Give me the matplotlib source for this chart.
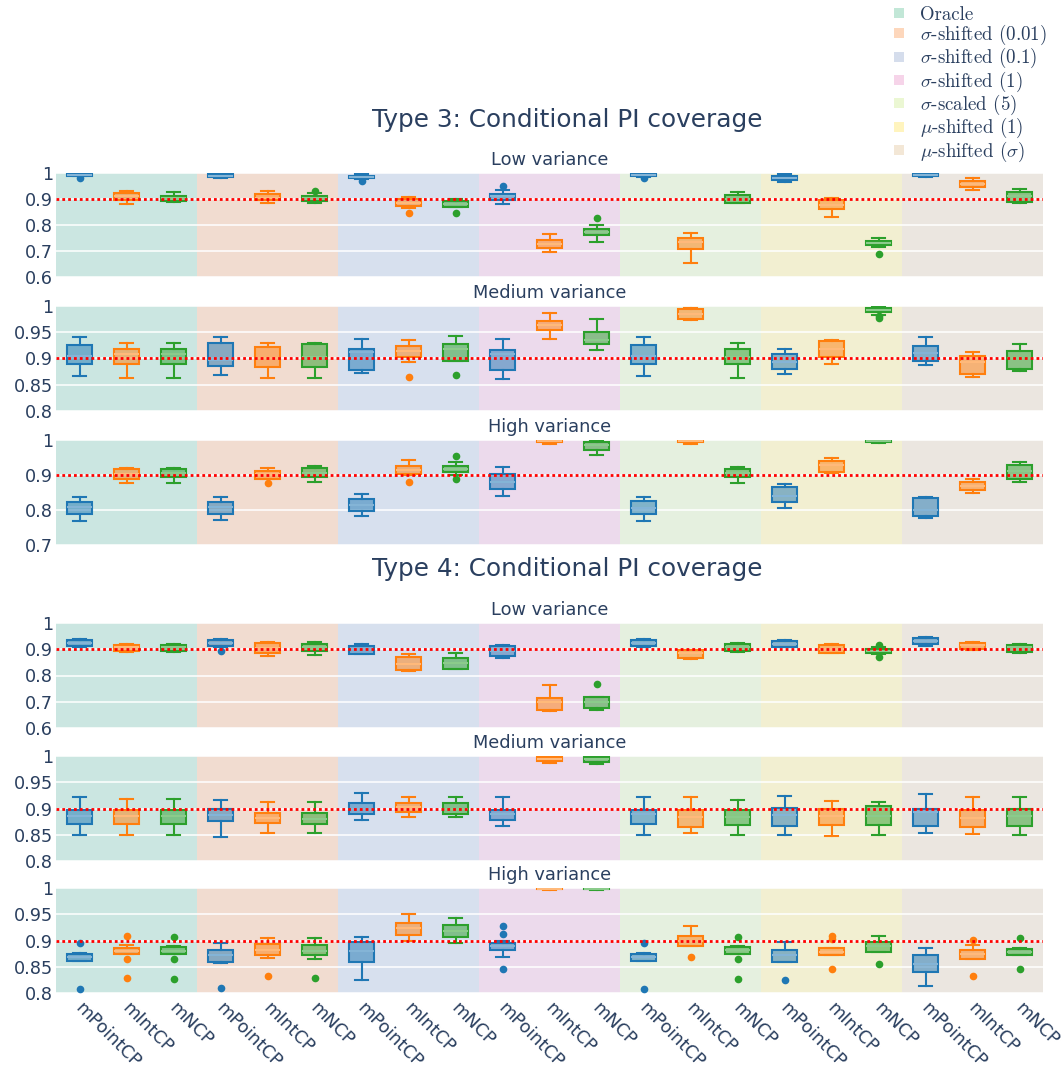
import matplotlib
matplotlib.use("Agg")
import matplotlib.pyplot as plt
import matplotlib.transforms as mtransforms
from matplotlib.lines import Line2D
from matplotlib.colors import to_rgb

plt.rcParams['font.family'] = ['DejaVu Sans']
plt.rcParams['mathtext.fontset'] = 'cm'

TEXT = '#2a3f5f'

scenarios = ['Oracle', r'$\sigma$-shifted (0.01)', r'$\sigma$-shifted (0.1)',
             r'$\sigma$-shifted (1)', r'$\sigma$-scaled (5)',
             r'$\mu$-shifted (1)', r'$\mu$-shifted ($\sigma$)']
scenario_colors = ['#B3E2CD', '#FDCDAC', '#CBD5E8', '#F4CAE4',
                   '#E6F5C9', '#FFF2AE', '#F1E2CC']
methods = ['mPointCP', 'mIntCP', 'mNCP']
method_colors = ['#1f77b4', '#ff7f0e', '#2ca02c']

# (whislo, q1, median, q3, whishi) per box, scenario-major / method-minor
t3_low = [
    (0.988, 0.990, 0.993, 0.996, 0.998), (0.882, 0.897, 0.912, 0.922, 0.930), (0.887, 0.893, 0.903, 0.912, 0.926),
    (0.980, 0.984, 0.990, 0.997, 1.000), (0.883, 0.896, 0.905, 0.918, 0.932), (0.883, 0.894, 0.904, 0.913, 0.922),
    (0.975, 0.979, 0.985, 0.990, 0.995), (0.864, 0.874, 0.885, 0.899, 0.909), (0.868, 0.871, 0.880, 0.894, 0.899),
    (0.882, 0.898, 0.910, 0.920, 0.933), (0.695, 0.710, 0.727, 0.742, 0.765), (0.735, 0.760, 0.774, 0.786, 0.800),
    (0.984, 0.988, 0.993, 0.998, 1.000), (0.652, 0.706, 0.735, 0.750, 0.768), (0.883, 0.886, 0.900, 0.914, 0.927),
    (0.966, 0.972, 0.980, 0.990, 0.996), (0.832, 0.860, 0.878, 0.895, 0.905), (0.715, 0.722, 0.730, 0.738, 0.749),
    (0.984, 0.988, 0.994, 0.999, 1.000), (0.935, 0.945, 0.958, 0.970, 0.980), (0.883, 0.888, 0.910, 0.926, 0.940),
]
t3_low_out = {0: [0.980], 5: [0.932], 6: [0.970], 7: [0.845], 8: [0.845],
              9: [0.950], 11: [0.828], 12: [0.980], 17: [0.690]}

t3_med = [
    (0.866, 0.890, 0.905, 0.925, 0.940), (0.863, 0.890, 0.908, 0.919, 0.929), (0.863, 0.890, 0.908, 0.919, 0.929),
    (0.869, 0.885, 0.897, 0.930, 0.941), (0.863, 0.883, 0.900, 0.922, 0.929), (0.863, 0.883, 0.902, 0.927, 0.929),
    (0.873, 0.878, 0.913, 0.918, 0.937), (0.894, 0.902, 0.915, 0.924, 0.936), (0.895, 0.896, 0.918, 0.927, 0.943),
    (0.860, 0.878, 0.908, 0.916, 0.938), (0.938, 0.954, 0.963, 0.972, 0.987), (0.916, 0.927, 0.936, 0.950, 0.975),
    (0.866, 0.890, 0.905, 0.925, 0.940), (0.973, 0.976, 0.985, 0.994, 0.997), (0.863, 0.890, 0.902, 0.919, 0.929),
    (0.871, 0.880, 0.893, 0.908, 0.919), (0.890, 0.902, 0.918, 0.933, 0.935), (0.982, 0.988, 0.992, 0.996, 0.999),
    (0.887, 0.895, 0.910, 0.924, 0.940), (0.865, 0.871, 0.893, 0.904, 0.912), (0.876, 0.880, 0.900, 0.915, 0.927),
]
t3_med_out = {7: [0.865], 8: [0.868], 17: [0.978, 0.981]}

t3_high = [
    (0.769, 0.789, 0.808, 0.824, 0.838), (0.878, 0.888, 0.902, 0.916, 0.921), (0.878, 0.893, 0.907, 0.916, 0.921),
    (0.771, 0.790, 0.808, 0.824, 0.837), (0.890, 0.890, 0.903, 0.912, 0.921), (0.880, 0.895, 0.905, 0.919, 0.926),
    (0.783, 0.797, 0.815, 0.831, 0.847), (0.900, 0.902, 0.915, 0.927, 0.943), (0.900, 0.908, 0.918, 0.927, 0.936),
    (0.840, 0.861, 0.880, 0.902, 0.924), (0.990, 0.993, 0.996, 0.999, 1.000), (0.957, 0.971, 0.985, 0.994, 0.996),
    (0.769, 0.789, 0.806, 0.826, 0.838), (0.990, 0.994, 0.997, 0.999, 1.000), (0.878, 0.893, 0.905, 0.916, 0.922),
    (0.805, 0.824, 0.840, 0.867, 0.874), (0.907, 0.910, 0.928, 0.941, 0.950), (0.992, 0.995, 0.998, 0.999, 1.000),
    (0.778, 0.783, 0.800, 0.833, 0.838), (0.848, 0.857, 0.870, 0.880, 0.890), (0.880, 0.890, 0.912, 0.928, 0.937),
]
t3_high_out = {4: [0.878], 7: [0.880], 8: [0.954, 0.888]}

t4_low = [
    (0.909, 0.912, 0.925, 0.936, 0.940), (0.890, 0.892, 0.908, 0.917, 0.921), (0.890, 0.892, 0.908, 0.917, 0.921),
    (0.909, 0.912, 0.925, 0.934, 0.938), (0.873, 0.886, 0.905, 0.924, 0.928), (0.877, 0.892, 0.910, 0.921, 0.928),
    (0.881, 0.883, 0.900, 0.912, 0.919), (0.818, 0.822, 0.845, 0.870, 0.883), (0.823, 0.826, 0.849, 0.868, 0.886),
    (0.868, 0.875, 0.893, 0.911, 0.915), (0.665, 0.667, 0.700, 0.715, 0.762), (0.667, 0.677, 0.700, 0.718, 0.718),
    (0.909, 0.911, 0.925, 0.934, 0.938), (0.864, 0.868, 0.885, 0.896, 0.899), (0.889, 0.893, 0.908, 0.919, 0.924),
    (0.907, 0.909, 0.920, 0.931, 0.934), (0.884, 0.886, 0.900, 0.916, 0.919), (0.883, 0.886, 0.895, 0.902, 0.909),
    (0.911, 0.921, 0.932, 0.942, 0.947), (0.898, 0.901, 0.915, 0.924, 0.928), (0.886, 0.888, 0.910, 0.917, 0.921),
]
t4_low_out = {3: [0.892], 11: [0.766], 17: [0.915, 0.872]}

t4_med = [
    (0.850, 0.870, 0.885, 0.898, 0.921), (0.850, 0.870, 0.885, 0.898, 0.918), (0.850, 0.870, 0.885, 0.898, 0.918),
    (0.846, 0.876, 0.888, 0.899, 0.916), (0.853, 0.873, 0.882, 0.892, 0.913), (0.853, 0.870, 0.880, 0.892, 0.913),
    (0.878, 0.890, 0.900, 0.910, 0.929), (0.883, 0.893, 0.902, 0.910, 0.922), (0.883, 0.890, 0.900, 0.910, 0.922),
    (0.866, 0.879, 0.890, 0.898, 0.922), (0.987, 0.990, 0.994, 0.998, 0.999), (0.984, 0.988, 0.994, 0.998, 0.999),
    (0.850, 0.870, 0.889, 0.898, 0.921), (0.853, 0.864, 0.884, 0.898, 0.921), (0.850, 0.869, 0.884, 0.897, 0.917),
    (0.850, 0.866, 0.888, 0.901, 0.924), (0.847, 0.868, 0.885, 0.900, 0.915), (0.850, 0.868, 0.885, 0.904, 0.913),
    (0.853, 0.866, 0.893, 0.900, 0.928), (0.852, 0.865, 0.882, 0.898, 0.921), (0.850, 0.866, 0.885, 0.900, 0.921),
]
t4_med_out = {}

t4_high = [
    (0.861, 0.861, 0.869, 0.875, 0.877), (0.874, 0.874, 0.880, 0.886, 0.892), (0.874, 0.874, 0.880, 0.887, 0.889),
    (0.858, 0.859, 0.872, 0.882, 0.896), (0.866, 0.873, 0.882, 0.893, 0.904), (0.864, 0.873, 0.880, 0.891, 0.904),
    (0.824, 0.859, 0.880, 0.898, 0.907), (0.899, 0.911, 0.923, 0.934, 0.951), (0.896, 0.907, 0.918, 0.929, 0.942),
    (0.869, 0.882, 0.889, 0.895, 0.899), (0.997, 0.998, 0.999, 1.000, 1.000), (0.997, 0.998, 0.999, 1.000, 1.000),
    (0.861, 0.861, 0.868, 0.875, 0.877), (0.890, 0.890, 0.900, 0.909, 0.928), (0.875, 0.875, 0.882, 0.887, 0.889),
    (0.859, 0.859, 0.872, 0.882, 0.897), (0.872, 0.872, 0.878, 0.886, 0.886), (0.879, 0.879, 0.890, 0.897, 0.909),
    (0.813, 0.840, 0.855, 0.872, 0.885), (0.864, 0.864, 0.875, 0.882, 0.891), (0.872, 0.872, 0.878, 0.884, 0.886),
]
t4_high_out = {0: [0.896, 0.807], 1: [0.909, 0.864, 0.829], 2: [0.906, 0.864, 0.827],
               3: [0.810], 4: [0.833], 5: [0.829], 9: [0.928, 0.912, 0.845],
               12: [0.896, 0.807], 13: [0.868], 14: [0.906, 0.865, 0.827], 15: [0.824],
               16: [0.909, 0.902, 0.845], 17: [0.856], 19: [0.901, 0.833], 20: [0.904, 0.845]}

ticks_06 = [0.6, 0.7, 0.8, 0.9, 1.0]
ticks_07 = [0.7, 0.8, 0.9, 1.0]
ticks_08 = [0.8, 0.85, 0.9, 0.95, 1.0]

panels = [
    ('Low variance', t3_low, t3_low_out, ticks_06, 173, 277),
    ('Medium variance', t3_med, t3_med_out, ticks_08, 306, 411),
    ('High variance', t3_high, t3_high_out, ticks_07, 440, 545),
    ('Low variance', t4_low, t4_low_out, ticks_06, 623, 728),
    ('Medium variance', t4_med, t4_med_out, ticks_08, 756, 861),
    ('High variance', t4_high, t4_high_out, ticks_08, 888, 993),
]

W, H = 1064, 1073
fig = plt.figure(figsize=(W / 100, H / 100), dpi=100)


def tick_fmt(v):
    return '1' if v == 1.0 else f'{v:g}'


def lighten(c, f):
    r, g, b = to_rgb(c)
    return (r + (1 - r) * f, g + (1 - g) * f, b + (1 - b) * f)


n = len(scenarios) * len(methods)
for p, (title, stats, outl, yt, top, bot) in enumerate(panels):
    ax = fig.add_axes([56 / W, 1 - bot / H, 987 / W, (bot - top) / H])
    ax.set_facecolor('#E5ECF6')
    for g, col in enumerate(scenario_colors):
        ax.axvspan(3 * g - 0.5, 3 * g + 2.5, color=col, alpha=0.5, lw=0, zorder=0.1)
    ax.set_axisbelow(True)
    ax.grid(axis='y', color='white', lw=1.1)
    ax.grid(axis='x', visible=False)

    for m, mc in enumerate(method_colors):
        idx = list(range(m, n, 3))
        bstats = []
        for i in idx:
            lo, q1, med, q3, hi = stats[i]
            bstats.append(dict(whislo=lo, q1=q1, med=med, q3=q3, whishi=hi,
                               fliers=outl.get(i, [])))
        ax.bxp(bstats, positions=idx, widths=0.55, capwidths=0.275,
               patch_artist=True, manage_ticks=False,
               boxprops=dict(facecolor=(*to_rgb(mc), 0.5), edgecolor=mc, lw=1.5),
               whiskerprops=dict(color=mc, lw=1.5),
               capprops=dict(color=mc, lw=1.5),
               medianprops=dict(color=lighten(mc, 0.45), lw=1.5),
               flierprops=dict(marker='o', markerfacecolor=mc, markeredgecolor='none',
                               markersize=5.5))

    ax.axhline(0.9, color='red', lw=2, ls=(0, (1, 1.1)), zorder=5)
    ax.set_xlim(-0.5, n - 0.5)
    ax.set_ylim(yt[0], yt[-1])
    ax.set_yticks(yt)
    ax.set_yticklabels([tick_fmt(v) for v in yt])
    ax.tick_params(axis='y', length=0, pad=2, labelsize=12.7, labelcolor=TEXT)
    ax.tick_params(axis='x', length=0)
    for s in ax.spines.values():
        s.set_visible(False)
    ax.set_xticks(range(n))
    if p == len(panels) - 1:
        ax.set_xticklabels(methods * len(scenarios), rotation=-45, ha='left',
                           va='center', rotation_mode='anchor',
                           fontsize=12.7, color=TEXT)
        ax.tick_params(axis='x', pad=9)
        shift = mtransforms.ScaledTranslation(-2 / 100, 0, fig.dpi_scale_trans)
        for lab in ax.get_xticklabels():
            lab.set_transform(lab.get_transform() + shift)
    else:
        ax.set_xticklabels([])
    ax.annotate(title, xy=(0.5, 1), xycoords='axes fraction', xytext=(0, 9.5),
                textcoords='offset points', ha='center', va='center',
                fontsize=12.8, color=TEXT)

fig.text(567 / W, 1 - 120 / H, 'Type 3: Conditional PI coverage', ha='center',
         va='center', fontsize=17.8, color=TEXT)
fig.text(567 / W, 1 - 569 / H, 'Type 4: Conditional PI coverage', ha='center',
         va='center', fontsize=17.8, color=TEXT)

handles = [Line2D([], [], ls='', marker='s', markersize=7.5, markeredgewidth=0,
                  color=c, alpha=0.8) for c in scenario_colors]
fig.legend(handles, scenarios, loc='upper left', bbox_to_anchor=(889 / W, 1 - 6 / H),
           frameon=False, prop=dict(family='cmr10', size=13.6), labelcolor=TEXT,
           handletextpad=0.55, labelspacing=-0.05, borderaxespad=0.0,
           handlelength=1.1, borderpad=0.0)

fig.savefig('out.png', dpi=100)
